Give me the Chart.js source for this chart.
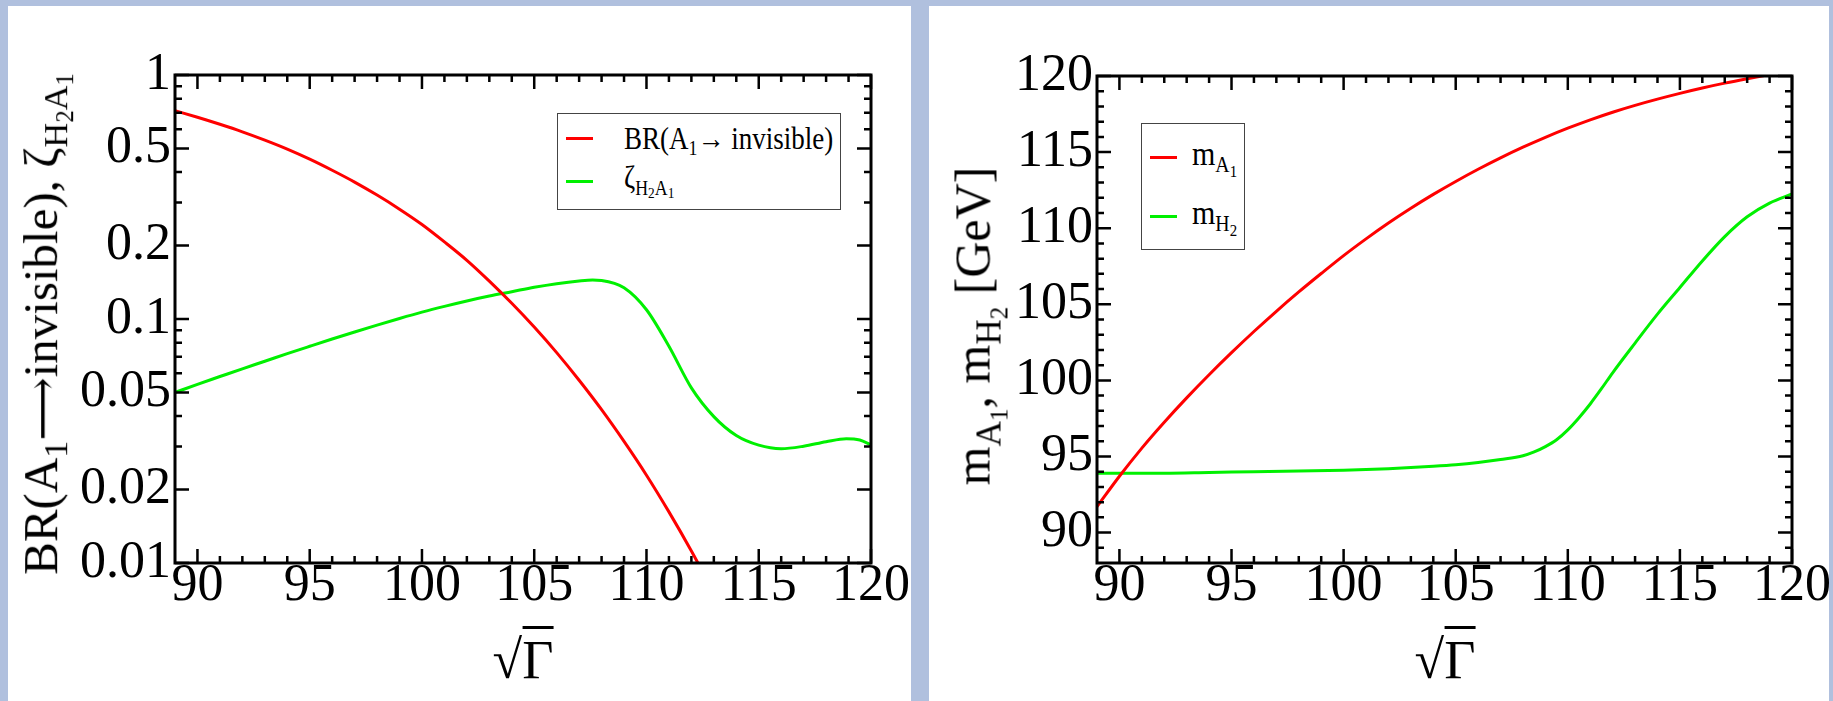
<!DOCTYPE html>
<html>
<head>
<meta charset="utf-8">
<script src="https://cdn.jsdelivr.net/npm/chart.js@4.4.1/dist/chart.umd.min.js"></script>
<style>
    body { margin: 0; width: 1833px; height: 701px; overflow: hidden; background: #b0c0de; position: relative; font-family: "Liberation Serif", "Times New Roman", serif; }
    .panel { position: absolute; top: 6px; height: 695px; background: #fff; }
    .panel canvas { position: absolute; left: 0; top: 0; }
    .ytitle { position: absolute; white-space: nowrap; line-height: 1; transform: translate(-50%, -50%) rotate(-90deg); }
    .ytitle sub { font-size: 0.7em; vertical-align: -0.3em; line-height: 0; }
    .ytitle sub sub { font-size: 0.72em; vertical-align: -0.26em; }
    .arrow { font-family: "DejaVu Serif", "DejaVu Sans", serif; font-size: 0.9em; }
    .xtitle { position: absolute; white-space: nowrap; font-size: 54px; line-height: 1; transform: translate(-50%, -50%); }
    .xtitle .bar { border-top: 3px solid #000; padding-top: 1px; }
    .legend { position: absolute; border: 1px solid #444; background: #fff; }
    .legend .swatch { position: absolute; height: 3px; width: 27px; }
    .legend .txt { position: absolute; white-space: nowrap; line-height: 1; transform-origin: left center; transform: translateY(-50%) scaleY(1.15); }
    .legend sub { font-size: 0.66em; vertical-align: -0.32em; line-height: 0; }
    .legend sub sub { font-size: 0.75em; vertical-align: -0.25em; }
</style>
</head>
<body>

<div class="panel" id="left" style="left:8px;width:903px">
    <canvas id="brChart" width="903" height="695"></canvas>
    <div class="ytitle" style="left:33px;top:318px;font-size:49px">BR(A<sub>1</sub><span class="arrow">&#10230;</span>invisible), &zeta;<sub>H<sub>2</sub>A<sub>1</sub></sub></div>
    <div class="xtitle" style="left:515px;top:654px">&radic;<span class="bar">&Gamma;</span></div>
    <div class="legend" style="left:549px;top:107px;width:282px;height:95px;font-size:27px">
        <div class="swatch" style="left:8px;top:23px;background:#ff0000"></div>
        <div class="txt" style="left:66px;top:25px">BR(A<sub>1</sub>&rarr; invisible)</div>
        <div class="swatch" style="left:8px;top:66px;background:#00f000"></div>
        <div class="txt" style="left:66px;top:64px">&zeta;<sub>H<sub>2</sub>A<sub>1</sub></sub></div>
    </div>
</div>

<div class="panel" id="right" style="left:929px;width:900px">
    <canvas id="massChart" width="900" height="695"></canvas>
    <div class="ytitle" style="left:44px;top:320px;font-size:50px">m<sub>A<sub>1</sub></sub>, m<sub>H<sub>2</sub></sub> [GeV]</div>
    <div class="xtitle" style="left:516px;top:654px">&radic;<span class="bar">&Gamma;</span></div>
    <div class="legend" style="left:212px;top:117px;width:102px;height:125px;font-size:30px">
        <div class="swatch" style="left:8px;top:32px;background:#ff0000"></div>
        <div class="txt" style="left:50px;top:30px">m<sub>A<sub>1</sub></sub></div>
        <div class="swatch" style="left:8px;top:91px;background:#00f000"></div>
        <div class="txt" style="left:50px;top:89px">m<sub>H<sub>2</sub></sub></div>
    </div>
</div>

<script>
// --- data ---
const xBR = [89, 90, 91, 92, 93, 94, 95, 96, 97, 98, 99, 100, 101, 102, 103, 104, 105, 106, 107, 108, 109, 110, 111, 112, 113];
const brInvisible = [0.714, 0.671, 0.628, 0.585, 0.541, 0.497, 0.452, 0.407, 0.364, 0.322, 0.282, 0.244, 0.207, 0.174, 0.143, 0.116, 0.0927, 0.0728, 0.0561, 0.0425, 0.0315, 0.0229, 0.0162, 0.0112, 0.00755];

const xZeta = [89, 90, 91, 92, 93, 94, 95, 96, 97, 98, 99, 100, 101, 102, 103, 104, 105, 106, 107, 107.6, 108, 109, 110, 111, 112, 113, 114, 115, 116, 117, 118, 118.9, 119.5, 120];
const zetaH2A1 = [0.0500, 0.0540, 0.0581, 0.0625, 0.0671, 0.0721, 0.0773, 0.0828, 0.0885, 0.0944, 0.1005, 0.1067, 0.1127, 0.1186, 0.1242, 0.1294, 0.1349, 0.1396, 0.1432, 0.1445, 0.1439, 0.1343, 0.1091, 0.0773, 0.0522, 0.0398, 0.0333, 0.0304, 0.0294, 0.0301, 0.0314, 0.0323, 0.0319, 0.0305];

const xMA1 = [89, 90, 91, 92, 93, 94, 95, 96, 97, 98, 99, 100, 101, 102, 103, 104, 105, 106, 107, 108, 109, 110, 111, 112, 113, 114, 115, 116, 117, 118, 119, 120];
const mA1 = [91.7, 93.7, 95.55, 97.25, 98.85, 100.37, 101.82, 103.21, 104.54, 105.81, 107.02, 108.2, 109.3, 110.34, 111.31, 112.22, 113.07, 113.87, 114.62, 115.32, 115.97, 116.57, 117.12, 117.62, 118.07, 118.48, 118.86, 119.21, 119.53, 119.82, 120.09, 120.34];

const xMH2 = [89, 90, 92, 94, 96, 98, 100, 102, 104, 105, 106, 107, 108, 108.5, 109, 109.5, 110, 110.5, 111, 111.5, 112, 113, 114, 115, 116, 117, 118, 119, 120];
const mH2 = [93.9, 93.9, 93.9, 93.95, 94.0, 94.05, 94.1, 94.2, 94.35, 94.45, 94.6, 94.8, 95.05, 95.3, 95.65, 96.1, 96.75, 97.55, 98.45, 99.45, 100.5, 102.45, 104.35, 106.1, 107.85, 109.45, 110.75, 111.65, 112.25];

// tick values
const xTicks = [90, 95, 100, 105, 110, 115, 120];
const xMinor = [91, 92, 93, 94, 96, 97, 98, 99, 101, 102, 103, 104, 106, 107, 108, 109, 111, 112, 113, 114, 116, 117, 118, 119];
const brTicks = [0.01, 0.02, 0.05, 0.1, 0.2, 0.5, 1];
const brMinor = [0.03, 0.04, 0.06, 0.07, 0.08, 0.09, 0.3, 0.4, 0.6, 0.7, 0.8, 0.9];
const massTicks = [90, 95, 100, 105, 110, 115, 120];
const massMinor = [89, 91, 92, 93, 94, 96, 97, 98, 99, 101, 102, 103, 104, 106, 107, 108, 109, 111, 112, 113, 114, 116, 117, 118, 119];

const RED = '#ff0000';
const GREEN = '#00f000';
const FONT = "'Liberation Serif', 'Times New Roman', serif";

// frame + inward ticks on all four sides
const frameTicks = {
    id: 'frameTicks',
    afterDatasetsDraw(chart, args, opts) {
        const { ctx, chartArea: a, scales: { x, y } } = chart;
        ctx.save();
        ctx.strokeStyle = '#000';
        ctx.lineWidth = 2.5;
        ctx.beginPath();
        const xt = (vals, len) => vals.forEach(v => {
            const px = x.getPixelForValue(v);
            ctx.moveTo(px, a.bottom); ctx.lineTo(px, a.bottom - len);
            ctx.moveTo(px, a.top); ctx.lineTo(px, a.top + len);
        });
        const yt = (vals, len) => vals.forEach(v => {
            const py = y.getPixelForValue(v);
            ctx.moveTo(a.left, py); ctx.lineTo(a.left + len, py);
            ctx.moveTo(a.right, py); ctx.lineTo(a.right - len, py);
        });
        xt(opts.xMajor, 14); xt(opts.xMinor, 7);
        yt(opts.yMajor, 14); yt(opts.yMinor, 7);
        ctx.stroke();
        ctx.lineWidth = 3;
        ctx.strokeRect(a.left, a.top, a.right - a.left, a.bottom - a.top);
        ctx.restore();
    }
};

function pts(xs, ys) {
    return xs.map((v, i) => ({ x: v, y: ys[i] }));
}

function makeChart(id, cfg) {
    const ctx = document.getElementById(id).getContext('2d');
    return new Chart(ctx, {
        type: 'line',
        data: {
            datasets: cfg.series.map(s => ({
                data: s.data,
                borderColor: s.color,
                borderWidth: 3,
                pointRadius: 0,
                cubicInterpolationMode: 'monotone',
                fill: false
            }))
        },
        options: {
            responsive: false,
            animation: false,
            devicePixelRatio: 1,
            layout: { padding: { left: 0, right: cfg.padRight, top: cfg.padTop, bottom: 0 } },
            plugins: {
                legend: { display: false },
                tooltip: { enabled: false },
                frameTicks: { xMajor: xTicks, xMinor: xMinor, yMajor: cfg.yTicks, yMinor: cfg.yMinor }
            },
            scales: {
                x: {
                    type: 'linear',
                    min: 89, max: 120,
                    grid: { display: false, drawTicks: false },
                    border: { display: false },
                    afterBuildTicks: s => { s.ticks = xTicks.map(v => ({ value: v })); },
                    afterFit: s => { s.height = 138; },
                    ticks: { color: '#000', font: { family: FONT, size: 52 }, padding: -8, autoSkip: false, maxRotation: 0, callback: v => String(v) }
                },
                y: {
                    type: cfg.yType,
                    min: cfg.yMin, max: cfg.yMax,
                    grid: { display: false, drawTicks: false },
                    border: { display: false },
                    afterBuildTicks: s => { s.ticks = cfg.yTicks.map(v => ({ value: v })); },
                    afterFit: s => { s.width = cfg.yWidth; },
                    ticks: { color: '#000', font: { family: FONT, size: 52 }, padding: 4, autoSkip: false, callback: v => String(v) }
                }
            }
        },
        plugins: [frameTicks]
    });
}

makeChart('brChart', {
    series: [
        { data: pts(xBR, brInvisible), color: RED },
        { data: pts(xZeta, zetaH2A1), color: GREEN }
    ],
    yType: 'logarithmic', yMin: 0.01, yMax: 1,
    yTicks: brTicks, yMinor: brMinor,
    yWidth: 167, padRight: 40, padTop: 69
});

makeChart('massChart', {
    series: [
        { data: pts(xMA1, mA1), color: RED },
        { data: pts(xMH2, mH2), color: GREEN }
    ],
    yType: 'linear', yMin: 88, yMax: 120,
    yTicks: massTicks, yMinor: massMinor,
    yWidth: 168, padRight: 37, padTop: 70
});
</script>
</body>
</html>
